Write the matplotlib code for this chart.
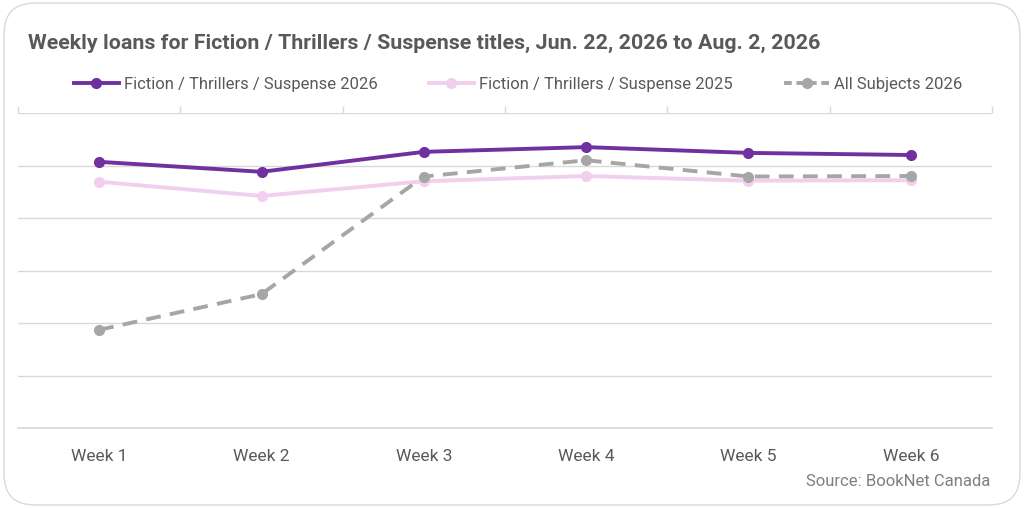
import matplotlib.pyplot as plt
from matplotlib.patches import FancyBboxPatch
from matplotlib.ticker import FixedLocator
from matplotlib.lines import Line2D

plt.rcParams['font.family'] = ['Roboto', 'DejaVu Sans']

weeks = ["Week 1", "Week 2", "Week 3", "Week 4", "Week 5", "Week 6"]
# relative loan levels (no value axis shown in the original)
thrill_2026 = [5.07, 4.88, 5.26, 5.35, 5.24, 5.20]
thrill_2025 = [4.69, 4.42, 4.70, 4.80, 4.71, 4.72]
all_2026 = [1.87, 2.55, 4.79, 5.10, 4.79, 4.80]

purple = "#7030A0"
pink = "#F2CEEF"
grey = "#A6A6A6"
txt = "#595959"

fig = plt.figure(figsize=(10.24, 5.08), dpi=100, facecolor="white")
fig.patches.append(FancyBboxPatch((0.004, 0.006), 0.992, 0.988,
                                  boxstyle="round,pad=0,rounding_size=0.03",
                                  transform=fig.transFigure, fc="none",
                                  ec="#d9d9d9", lw=1, mutation_aspect=2.0, zorder=-1))

ax = fig.add_axes([18/1024, 1-428/508, (992-18)/1024, (428-113)/508])
ax.patch.set_alpha(0)
x = list(range(len(weeks)))

ax.plot(x, all_2026, color=grey, lw=2.8, ls=(0, (3.8, 2.4)), marker='o', ms=7, zorder=3)
ax.plot(x, thrill_2025, color=pink, lw=2.8, marker='o', ms=7, zorder=2)
ax.plot(x, thrill_2026, color=purple, lw=2.8, marker='o', ms=7, zorder=4)

ax.set_xlim(-0.5, 5.5)
ax.set_ylim(0, 6)
ax.set_yticks(range(0, 7))
ax.set_yticklabels([])
ax.yaxis.grid(True, color="#d9d9d9", lw=1)
ax.set_axisbelow(True)
ax.tick_params(axis='y', length=0)

ax.set_xticks(x)
ax.set_xticklabels(weeks, fontsize=12.5, color=txt)
ax.tick_params(axis='x', which='major', length=0, pad=15)
ax.xaxis.set_minor_locator(FixedLocator([i - 0.5 for i in range(7)]))
ax.tick_params(axis='x', which='minor', bottom=False, top=True, length=5,
               color="#d9d9d9", width=1, direction='out')

for s in ["left", "right", "top"]:
    ax.spines[s].set_visible(False)
ax.spines["bottom"].set_color("#d9d9d9")
ax.spines["bottom"].set_linewidth(1.2)

fig.text(28/1024, 1-43/508, "Weekly loans for Fiction / Thrillers / Suspense titles, Jun. 22, 2026 to Aug. 2, 2026",
         fontsize=15.4, fontweight='bold', color=txt, va='center', ha='left')

handles = [
    Line2D([], [], color=purple, lw=2.8, marker='o', ms=7),
    Line2D([], [], color=pink, lw=2.8, marker='o', ms=7),
    Line2D([], [], color=grey, lw=2.8, ls=(0, (2, 1.2)), marker='o', ms=7),
]
labels = ["Fiction / Thrillers / Suspense 2026", "Fiction / Thrillers / Suspense 2025", "All Subjects 2026"]
fig.legend(handles, labels, loc='center', bbox_to_anchor=(518/1024, 1-84/508), ncol=3,
           frameon=False, fontsize=12, labelcolor=txt, handlelength=2.7, handletextpad=0.3,
           columnspacing=3.1)

fig.text(990/1024, 1-481/508, "Source: BookNet Canada", fontsize=12, color="#7f7f7f",
         ha='right', va='center')

fig.savefig("out.png", dpi=100)
